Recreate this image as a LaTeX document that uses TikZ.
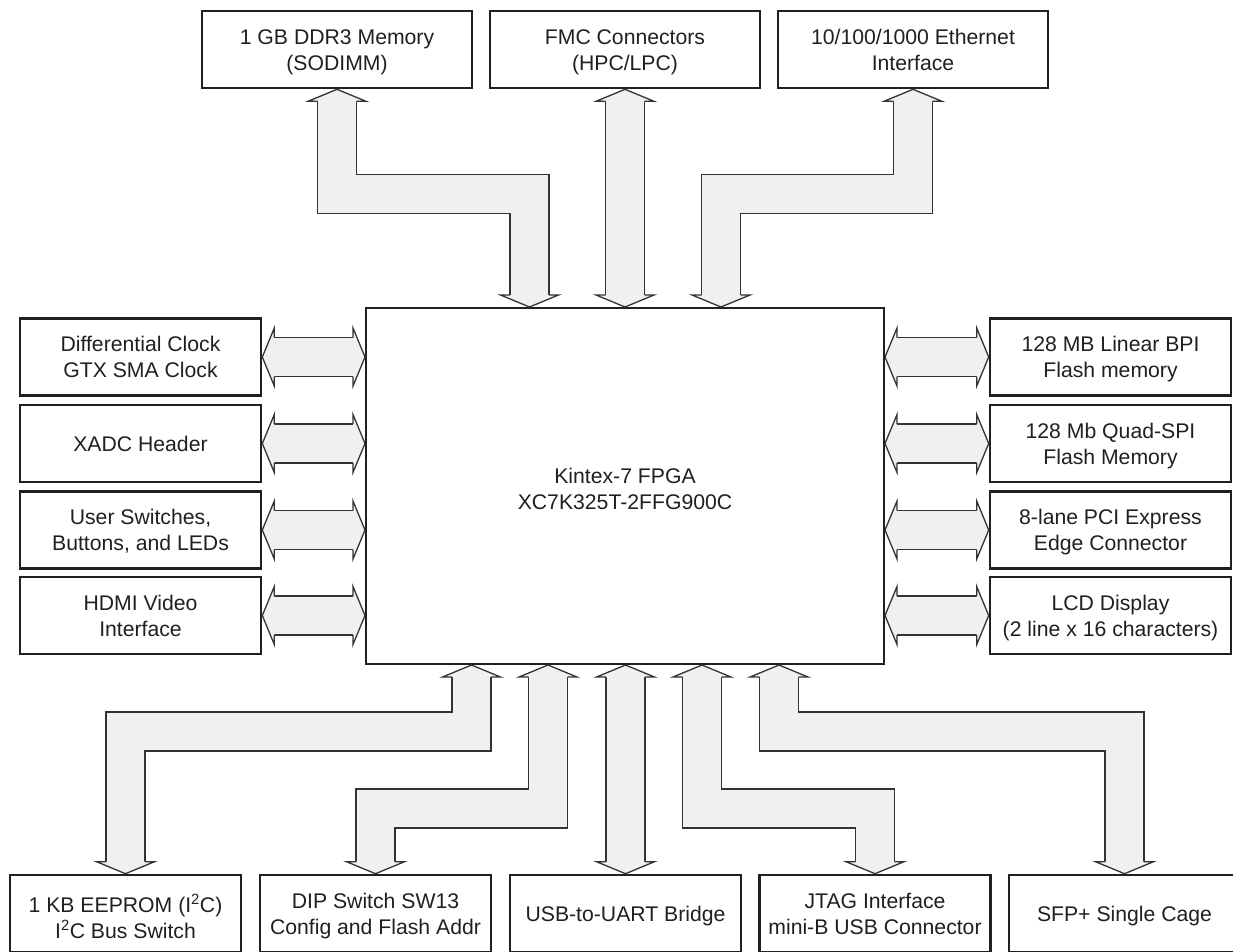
\documentclass[tikz,border=0pt]{standalone}
\usepackage{fontspec}
\usepackage{array}
\setmainfont{Liberation Sans}
\usetikzlibrary{calc}
\definecolor{ink}{HTML}{231F20}
\definecolor{arrowfill}{HTML}{F0F0F0}
\definecolor{arrowline}{HTML}{333333}
\newcommand\bstrut{\rule[-5.4pt]{0pt}{26pt}}
\newcommand\bx[1]{{\renewcommand\arraystretch{0}\begin{tabular}{@{}>{\bstrut}c@{}}#1\end{tabular}}}
\newcommand\lowered[2]{\raisebox{-#1}[\height][\depth]{#2}}
\newcommand\headU[1]{\filldraw[head] ($(#1)+(-19.5,12)$) -- ($(#1)+(-29,12)$) -- (#1) -- ($(#1)+(29,12)$) -- ($(#1)+(19.5,12)$);}
\newcommand\headD[1]{\filldraw[head] ($(#1)+(-19.5,-12)$) -- ($(#1)+(-29,-12)$) -- (#1) -- ($(#1)+(29,-12)$) -- ($(#1)+(19.5,-12)$);}
\newcommand\headL[1]{\filldraw[head] ($(#1)+(12,-19.5)$) -- ($(#1)+(12,-29)$) -- (#1) -- ($(#1)+(12,29)$) -- ($(#1)+(12,19.5)$);}
\newcommand\headR[1]{\filldraw[head] ($(#1)+(-12,-19.5)$) -- ($(#1)+(-12,-29)$) -- (#1) -- ($(#1)+(-12,29)$) -- ($(#1)+(-12,19.5)$);}
\begin{document}
\begin{tikzpicture}[x=1pt,y=-1pt,
  box/.style={draw=ink, line width=2.6pt, minimum width=241pt, minimum height=77pt, inner sep=0pt, font=\fontsize{21.2}{26}\selectfont, text=ink},
  topbox/.style={box, minimum width=270pt},
  botbox/.style={box, minimum width=231pt},
  chip/.style={draw=ink, line width=2pt, minimum width=518pt, minimum height=356pt, inner sep=0pt, font=\fontsize{21.2}{26}\selectfont, text=ink},
  shaft/.style={draw=arrowline, line width=1.3pt, double=arrowfill, double distance=37.7pt, line join=miter, line cap=butt},
  head/.style={fill=arrowfill, draw=arrowline, line width=1.3pt, line join=miter},
]
\useasboundingbox (0,0) rectangle (1233,951);
\fill[white] (0,0) rectangle (1233,951);

% FPGA
\node[chip] (fpga) at (625,486) {\lowered{3pt}{\bx{Kintex-7 FPGA\\XC7K325T-2FFG900C}}};

% top
\node[topbox] (ddr) at (337,49.5) {\bx{1 GB DDR3 Memory\\(SODIMM)}};
\node[topbox] (fmc) at (625,49.5) {\bx{FMC Connectors\\(HPC/LPC)}};
\node[topbox] (eth) at (913,49.5) {\bx{10/100/1000 Ethernet\\Interface}};

% left
\node[box] (clk) at (140.5,357) {\bx{Differential Clock\\GTX SMA Clock}};
\node[box] (xadc) at (140.5,443.5) {\bx{XADC Header}};
\node[box] (usr) at (140.5,530) {\bx{User Switches,\\Buttons, and LEDs}};
\node[box] (hdmi) at (140.5,615.5) {\bx{HDMI Video\\Interface}};

% right
\node[box] (bpi) at (1110.5,357) {\bx{128 MB Linear BPI\\Flash memory}};
\node[box] (spi) at (1110.5,443.5) {\bx{128 Mb Quad-SPI\\Flash Memory}};
\node[box] (pci) at (1110.5,530) {\bx{8-lane PCI Express\\Edge Connector}};
\node[box] (lcd) at (1110.5,615.5) {\bx{LCD Display\\(2 line x 16 characters)}};

% bottom
\node[botbox] (eep) at (125.5,913.5) {\lowered{4pt}{\bx{1 KB EEPROM (I\textsuperscript{2}C)\\I\textsuperscript{2}C Bus Switch}}};
\node[botbox] (dip) at (375.5,913.5) {\bx{DIP Switch SW13\\Config and Flash Addr}};
\node[botbox] (usb) at (625.5,913.5) {\bx{USB-to-UART Bridge}};
\node[botbox] (jtag) at (875,913.5) {\bx{JTAG Interface\\mini-B USB Connector}};
\node[botbox] (sfp) at (1124.5,913.5) {\bx{SFP+ Single Cage}};

% tips on the FPGA
\coordinate (fn1) at ($(fpga.north)+(-95.5,0)$);
\coordinate (fn2) at (fmc.south |- fpga.north);
\coordinate (fn3) at ($(fpga.north)+(96,0)$);
\coordinate (fs1) at ($(fpga.south)+(-153.5,0)$);
\coordinate (fs2) at ($(fpga.south)+(-77,0)$);
\coordinate (fs3) at (usb.north |- fpga.south);
\coordinate (fs4) at ($(fpga.south)+(77,0)$);
\coordinate (fs5) at ($(fpga.south)+(154,0)$);

% top arrows
\draw[shaft] ($(ddr.south)+(0,11.5)$) -- ++(0,93.5) -| ($(fn1)+(0,-11.5)$);
\headU{ddr.south} \headD{fn1}
\draw[shaft] ($(fmc.south)+(0,11.5)$) -- ($(fn2)+(0,-11.5)$);
\headU{fmc.south} \headD{fn2}
\draw[shaft] ($(eth.south)+(0,11.5)$) -- ++(0,93.5) -| ($(fn3)+(0,-11.5)$);
\headU{eth.south} \headD{fn3}

% left and right arrows
\foreach \b in {clk,xadc,usr,hdmi}{
  \coordinate (tw) at (fpga.west |- \b.east);
  \draw[shaft] ($(\b.east)+(11.5,0)$) -- ($(tw)+(-11.5,0)$);
  \headL{\b.east} \headR{tw}
}
\foreach \b in {bpi,spi,pci,lcd}{
  \coordinate (te) at (fpga.east |- \b.west);
  \draw[shaft] ($(te)+(11.5,0)$) -- ($(\b.west)+(-11.5,0)$);
  \headL{te} \headR{\b.west}
}

% bottom arrows
\draw[shaft] ($(fs1)+(0,11.5)$) -- ++(0,55) -| ($(eep.north)+(0,-11.5)$);
\headU{fs1} \headD{eep.north}
\draw[shaft] ($(fs2)+(0,11.5)$) -- ++(0,132) -| ($(dip.north)+(0,-11.5)$);
\headU{fs2} \headD{dip.north}
\draw[shaft] ($(fs3)+(0,11.5)$) -- ($(usb.north)+(0,-11.5)$);
\headU{fs3} \headD{usb.north}
\draw[shaft] ($(fs4)+(0,11.5)$) -- ++(0,132) -| ($(jtag.north)+(0,-11.5)$);
\headU{fs4} \headD{jtag.north}
\draw[shaft] ($(fs5)+(0,11.5)$) -- ++(0,55) -| ($(sfp.north)+(0,-11.5)$);
\headU{fs5} \headD{sfp.north}
\end{tikzpicture}
\end{document}
